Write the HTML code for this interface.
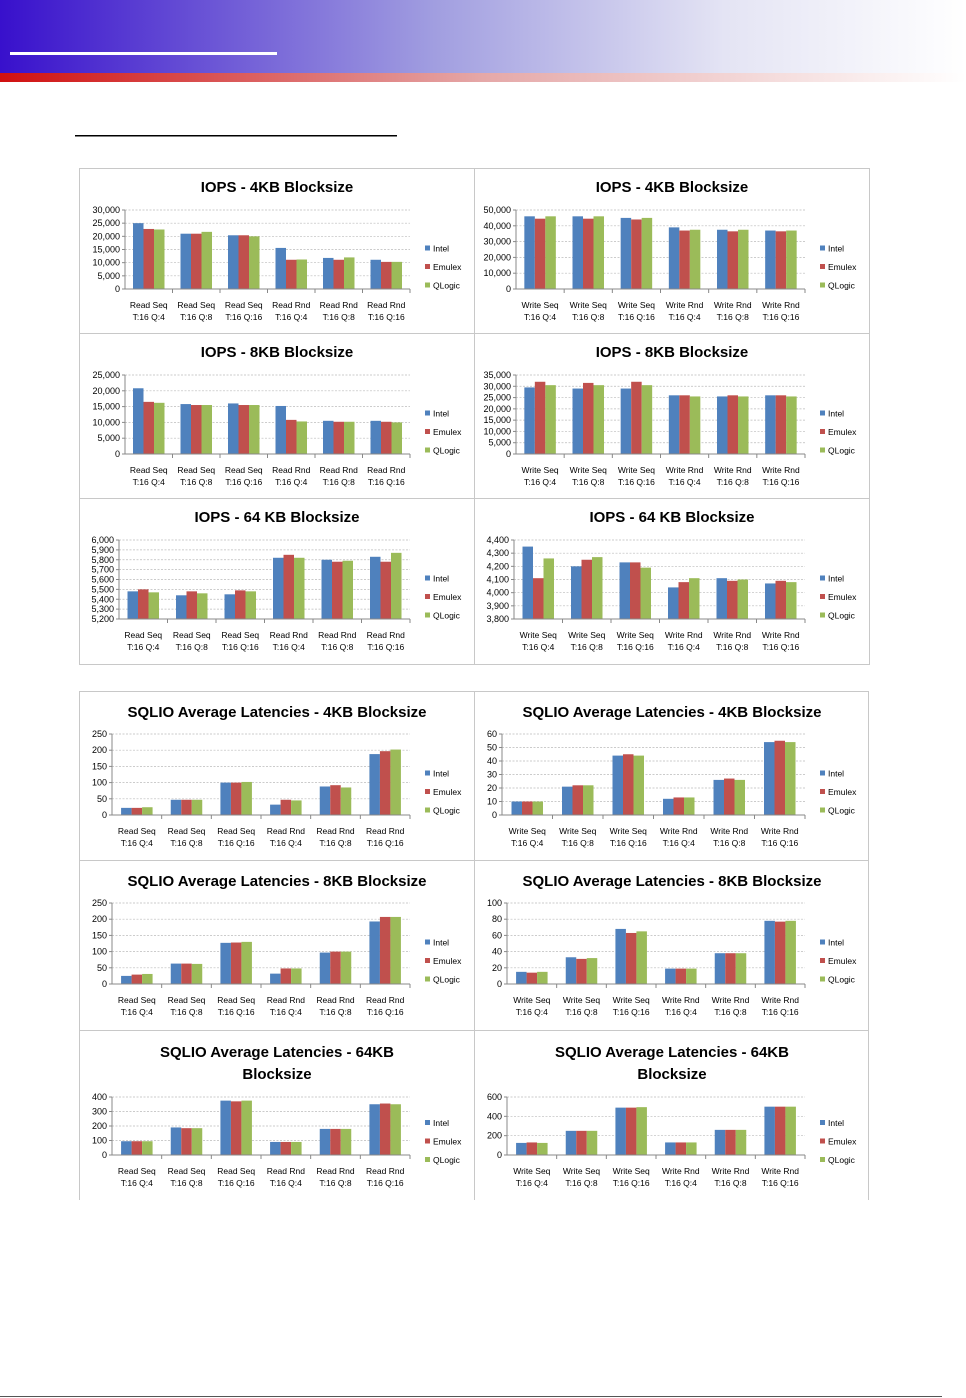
<!DOCTYPE html><html><head><meta charset="utf-8"><style>
body{margin:0;background:#fff;width:966px;height:1398px;overflow:hidden;position:relative;font-family:"Liberation Sans",sans-serif}
svg{position:absolute;left:0;top:0}
</style></head><body>
<svg id="s" width="966" height="1398" xmlns="http://www.w3.org/2000/svg">
<defs>
<linearGradient id="gb" x1="0" x2="1"><stop offset="0" stop-color="#3810cc"/><stop offset="0.45" stop-color="#a19ee0"/><stop offset="0.75" stop-color="#e4e4f4"/><stop offset="1" stop-color="#ffffff"/></linearGradient>
<linearGradient id="gr" x1="0" x2="1"><stop offset="0" stop-color="#d01010"/><stop offset="0.5" stop-color="#e5a8a8"/><stop offset="1" stop-color="#ffffff"/></linearGradient>
</defs>
<rect x="0" y="0" width="966" height="74" fill="url(#gb)"/>
<rect x="0" y="73" width="966" height="9" fill="url(#gr)"/>
<rect x="10" y="52" width="267" height="3" fill="#fff"/>
<rect x="75" y="135" width="322" height="1.5" fill="#000"/>
<rect x="0" y="1396" width="942" height="1" fill="#555"/>
<g id="c"></g>
</svg>
<script>
const g=document.getElementById('c');let h='';
const col=['#4F81BD','#C0504D','#9BBB59'];
function P(px,py,pw,ph,title,min,max,step,data,labs,pl,ttl2){
 const L=px+pl,R=px+331,T=py+(ttl2?67:(ph>166?43:42)),B=py+(ttl2?125:(ph>166?124:121));
 const tx=px+198;
 if(ttl2){h+=`<text x="${tx}" y="${py+27}" font-size="15" font-weight="bold" text-anchor="middle" textLength="" >${title}</text><text x="${tx}" y="${py+49}" font-size="15" font-weight="bold" text-anchor="middle">${ttl2}</text>`;}
 else h+=`<text x="${tx}" y="${py+(ph>166?26:24)}" font-size="15" font-weight="bold" text-anchor="middle">${title}</text>`;
 const n=Math.round((max-min)/step);
 for(let i=0;i<=n;i++){const v=min+i*step,y=B-(B-T)*i/n;
  if(i>0)h+=`<line x1="${L}" x2="${R}" y1="${y}" y2="${y}" stroke="#bbb" stroke-width="0.7" stroke-dasharray="2,1.5"/>`;
  h+=`<line x1="${L-3}" x2="${L}" y1="${y}" y2="${y}" stroke="#888"/>`;
  h+=`<text x="${L-5}" y="${y+3}" font-size="9" text-anchor="end">${v.toLocaleString('en-US')}</text>`;}
 const gw=(R-L)/6,bw=10.5;
 data.forEach((d,i)=>{const cx=L+gw*(i+0.5);
  d.forEach((v,j)=>{const y=B-(B-T)*(v-min)/(max-min);h+=`<rect x="${cx-1.5*bw+j*bw}" y="${y}" width="${bw}" height="${B-y}" fill="${col[j]}"/>`;});
  h+=`<line x1="${L+gw*(i+1)}" x2="${L+gw*(i+1)}" y1="${B}" y2="${B+4}" stroke="#888"/>`;
  h+=`<text x="${cx}" y="${B+19}" font-size="8.5" text-anchor="middle">${labs[0]} ${i<3?'Seq':'Rnd'}</text><text x="${cx}" y="${B+31}" font-size="8.5" text-anchor="middle">T:16 Q:${[4,8,16][i%3]}</text>`;});
 h+=`<line x1="${L}" x2="${L}" y1="${T}" y2="${B}" stroke="#888"/><line x1="${L}" x2="${R}" y1="${B}" y2="${B}" stroke="#888"/>`;
 const ly=(T+B)/2+2;
 ['Intel','Emulex','QLogic'].forEach((s,j)=>{const y=ly-1+18.5*j+(ttl2?-2:0);h+=`<rect x="${px+346}" y="${y-5}" width="5" height="5" fill="${col[j]}"/><text x="${px+354}" y="${y+1}" font-size="8.5">${s}</text>`;});
}
P(79,168,395,165,'IOPS - 4KB Blocksize',0,30000,5000,[[25000,22800,22600],[21000,21000,21700],[20400,20400,20000],[15600,11100,11200],[11800,11100,12000],[11100,10300,10300]],['Read'],46);
P(474,168,395,165,'IOPS - 4KB Blocksize',0,50000,10000,[[46000,44500,46000],[46000,44500,46000],[45000,44000,45000],[39000,37000,37500],[37500,36500,37500],[37000,36500,37000]],['Write'],42);
P(79,333,395,165,'IOPS - 8KB Blocksize',0,25000,5000,[[20800,16500,16200],[15800,15500,15500],[16000,15500,15500],[15200,10800,10300],[10500,10200,10200],[10500,10200,10000]],['Read'],46);
P(474,333,395,165,'IOPS - 8KB Blocksize',0,35000,5000,[[29500,32000,30500],[29000,31500,30500],[29000,32000,30500],[26000,26000,25500],[25500,26000,25500],[26000,26000,25500]],['Write'],42);
P(79,498,395,166,'IOPS - 64 KB Blocksize',5200,6000,100,[[5480,5500,5470],[5440,5480,5460],[5450,5490,5480],[5820,5850,5820],[5800,5780,5790],[5830,5780,5870]],['Read'],40);
P(474,498,395,166,'IOPS - 64 KB Blocksize',3800,4400,100,[[4350,4110,4260],[4200,4250,4270],[4230,4230,4190],[4040,4080,4110],[4110,4090,4100],[4070,4090,4080]],['Write'],40);
P(79,691,395,169,'SQLIO Average Latencies - 4KB Blocksize',0,250,50,[[22,22,24],[47,47,47],[100,100,102],[32,47,45],[88,92,85],[188,197,202]],['Read'],33);
P(474,691,395,169,'SQLIO Average Latencies - 4KB Blocksize',0,60,10,[[10,10,10],[21,22,22],[44,45,44],[12,13,13],[26,27,26],[54,55,54]],['Write'],28);
P(79,860,395,170,'SQLIO Average Latencies - 8KB Blocksize',0,250,50,[[25,29,31],[63,63,62],[127,128,130],[32,48,48],[97,100,100],[193,207,207]],['Read'],33);
P(474,860,395,170,'SQLIO Average Latencies - 8KB Blocksize',0,100,20,[[15,14,15],[33,31,32],[68,63,65],[19,19,19],[38,38,38],[78,77,78]],['Write'],33);
P(79,1030,395,170,'SQLIO Average Latencies - 64KB',0,400,100,[[95,95,95],[190,185,185],[375,370,375],[90,90,90],[180,180,180],[350,355,350]],['Read'],33,'Blocksize');
P(474,1030,395,170,'SQLIO Average Latencies - 64KB',0,600,200,[[125,130,125],[250,250,250],[490,490,495],[130,130,130],[260,260,260],[500,500,500]],['Write'],33,'Blocksize');
const b='#c8c8c8';
h+=`<rect x="79.5" y="168.5" width="790" height="496" fill="none" stroke="${b}"/>`;
[333,498].forEach(y=>h+=`<line x1="79" x2="869" y1="${y+.5}" y2="${y+.5}" stroke="${b}"/>`);
h+=`<line x1="474.5" x2="474.5" y1="168" y2="664" stroke="${b}"/>`;
h+=`<path d="M79.5 1200V691.5H868.5V1200M474.5 691V1200" fill="none" stroke="${b}"/>`;
[860,1030].forEach(y=>h+=`<line x1="79" x2="869" y1="${y+.5}" y2="${y+.5}" stroke="${b}"/>`);
g.innerHTML=h;
</script>
</body></html>
